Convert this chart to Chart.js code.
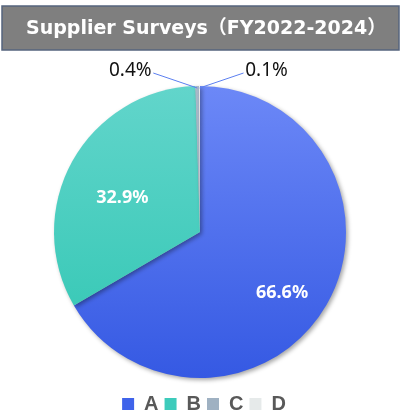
<!DOCTYPE html>
<html><head><meta charset="utf-8">
<script src="https://cdn.jsdelivr.net/npm/chart.js@4/dist/chart.umd.min.js"></script>
<style>html,body{margin:0;padding:0;background:#fff;}#wrap{width:405px;height:414px;position:relative;}</style>
</head><body><div id="wrap"><canvas id="c" width="405" height="414"></canvas></div>
<script>
const TITLE = 'Supplier Surveys（FY2022-2024）';
const categories = ['A', 'B', 'C', 'D'];
const shares = [66.6, 32.9, 0.4, 0.1];
const labelTexts = ['66.6%', '32.9%', '0.4%', '0.1%'];

const topCols = ['#6c88f7', '#62d5cb', '#a9b9c9', '#eef1f1'];
const botCols = ['#3559e3', '#2fc6b2', '#93a6b8', '#dde3e3'];
const solid = ['#3f63ea', '#3dcbbb', '#9fb1c2', '#e6eaea'];

function grad(ctx, i) {
  const chart = ctx.chart; const a = chart.chartArea;
  if (!a) return solid[i];
  const g = chart.ctx.createLinearGradient(0, a.top, 0, a.bottom);
  g.addColorStop(0, topCols[i]); g.addColorStop(1, botCols[i]);
  return g;
}

const titlePlugin = {
  id: 'titleBox',
  beforeDraw(chart) {
    const c = chart.ctx; c.save();
    c.fillStyle = '#7f7f7f'; c.fillRect(2, 6, 397, 44);
    c.strokeStyle = '#56647e'; c.lineWidth = 1.5; c.strokeRect(2, 6, 397, 44);
    c.fillStyle = '#ffffff'; c.font = 'bold 19px "DejaVu Sans", "Noto Sans CJK JP", sans-serif';
    c.textBaseline = 'middle'; c.textAlign = 'left';
    c.fillText(TITLE, 26, 29);
    c.restore();
  }
};

const legendShift = {
  id: 'legendShift',
  afterLayout(chart) { if (chart.legend) { chart.legend.top += 10; chart.legend.bottom += 10; chart.legend.left += 4; chart.legend.right += 4; } }
};

const shadowPlugin = {
  id: 'shadow',
  beforeDatasetDraw(chart) { const c = chart.ctx; c.save(); c.shadowColor = 'rgba(0,0,0,0.35)'; c.shadowBlur = 4; c.shadowOffsetX = 2; c.shadowOffsetY = 2; },
  afterDatasetDraw(chart) { chart.ctx.restore(); }
};

const inFrac = [0.70, 0.58];
const inOff = [0.117, -0.096];

const labelPlugin = {
  id: 'sliceLabels',
  afterDatasetsDraw(chart) {
    const c = chart.ctx; const meta = chart.getDatasetMeta(0);
    c.save(); c.textAlign = 'center'; c.textBaseline = 'middle';
    meta.data.forEach((arc, i) => {
      const p = arc.getProps(['x', 'y', 'startAngle', 'endAngle', 'outerRadius'], true);
      const mid = (p.startAngle + p.endAngle) / 2;
      if (i < 2) {
        const r = p.outerRadius * inFrac[i];
        const x = p.x + Math.cos(mid + inOff[i]) * r, y = p.y + Math.sin(mid + inOff[i]) * r;
        c.fillStyle = '#ffffff'; c.font = 'bold 18px "Noto Sans", sans-serif';
        c.fillText(labelTexts[i], x, y);
      } else {
        const ex = p.x + Math.cos(mid) * (p.outerRadius - 2), ey = p.y + Math.sin(mid) * (p.outerRadius - 2);
        const side = i === 2 ? -1 : 1;
        const lx = ex + side * 44, ly = ey - 15;
        c.strokeStyle = '#5b7ff0'; c.lineWidth = 1;
        c.beginPath(); c.moveTo(ex, ey); c.lineTo(lx, ly); c.stroke();
        c.fillStyle = '#111111'; c.font = '19px "Noto Sans", sans-serif';
        c.fillText(labelTexts[i], lx + side * 23, ly - 2);
      }
    });
    c.restore();
  }
};

new Chart(document.getElementById('c'), {
  type: 'pie',
  data: { labels: categories, datasets: [{ data: shares, backgroundColor: (ctx) => grad(ctx, ctx.dataIndex), borderWidth: 0 }] },
  plugins: [titlePlugin, legendShift, shadowPlugin, labelPlugin],
  options: {
    responsive: false, animation: false,
    layout: { padding: { top: 86, bottom: 0, left: 0, right: 5 } },
    plugins: {
      tooltip: { enabled: false },
      legend: {
        position: 'bottom',
        labels: {
          boxWidth: 12, boxHeight: 12, padding: 6, color: '#595959',
          font: { size: 20, weight: 'bold', family: '"Liberation Sans", Arial, sans-serif' },
          generateLabels: (chart) => categories.map((n, i) => ({ text: n, fillStyle: solid[i], strokeStyle: solid[i], lineWidth: 0, index: i, fontColor: '#595959' }))
        }
      }
    }
  }
});
</script></body></html>
